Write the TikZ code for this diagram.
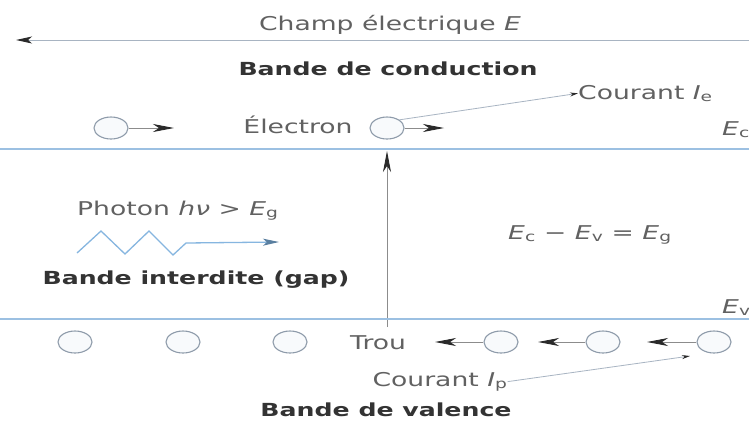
\documentclass[tikz,border=0pt]{standalone}
\usepackage{fontspec}
\setmainfont{DejaVu Sans}[FakeStretch=1.4]
\usetikzlibrary{shapes.geometric,arrows.meta}
\definecolor{txtgray}{HTML}{616161}
\definecolor{boldgray}{HTML}{333333}
\definecolor{circgray}{HTML}{8E9BAA}
\definecolor{circfill}{HTML}{F8FAFC}
\definecolor{bandblue}{HTML}{9CC0E2}
\definecolor{shaftgray}{HTML}{8C8C8C}
\definecolor{tipdark}{HTML}{2A2A2A}
\definecolor{photonblue}{HTML}{86B6E0}
\definecolor{photontip}{HTML}{5A7FA0}
\definecolor{fieldgray}{HTML}{A8B4C2}
\begin{document}
\begin{tikzpicture}[x=1pt,y=-1pt,
  txt/.style={text=txtgray,font=\fontsize{19}{22}\selectfont,inner sep=0pt},
  btxt/.style={text=boldgray,font=\fontsize{18}{21}\selectfont\bfseries,inner sep=0pt},
  carrier/.style={ellipse,draw=circgray,fill=circfill,line width=1.1pt,minimum width=34pt,minimum height=22pt,inner sep=0pt},
  band/.style={draw=bandblue,line width=1.5pt},
  mv/.style={draw=shaftgray,line width=0.9pt,-{Stealth[length=21pt,width=8pt,inset=6pt,color=tipdark]}},
  lead/.style={draw=fieldgray,line width=0.8pt,-{Stealth[length=8pt,width=4pt,color=tipdark]}},
  photon/.style={draw=photonblue,line width=1.3pt,line join=miter,-{Stealth[length=16pt,width=7pt,inset=4pt,color=photontip]}},
  field/.style={draw=fieldgray,line width=1pt,-{Stealth[length=16pt,width=7pt,inset=4pt,color=tipdark]}}
]
\useasboundingbox[fill=white] (0,0) rectangle (749,421);

% electric field
\node[txt,anchor=base] (champ) at (390,30) {Champ électrique \textit{E}};
\coordinate (fR) at (749,40);
\coordinate (fL) at (16,40);
\draw[field] (fR) -- (fL);

% conduction band
\node[btxt,anchor=base] (bc) at (388,75) {Bande de conduction};
\coordinate (cL) at (0,149);
\coordinate (cR) at (749,149);
\draw[band] (cL) -- (cR);
\node[txt,anchor=base west] (Ec) at (722,135) {\textit{E}\textsubscript{c}};

% electrons
\node[carrier] (e1) at (111,128) {};
\coordinate (e1t) at (174,128);
\draw[mv] (e1.east) -- (e1t);
\node[txt,anchor=base] (el) at (298,133) {Électron};
\node[carrier] (e2) at (387,128) {};
\coordinate (e2t) at (444,128);
\draw[mv] (e2.east) -- (e2t);
\node[txt,anchor=base west] (Ie) at (578,99) {Courant \textit{I}\textsubscript{e}};
\draw[lead] (e2.north east) -- (Ie.west);

% excitation arrow
\coordinate (vB) at (387,327);
\coordinate (vT) at (387,151);
\draw[mv] (vB) -- (vT);

% gap
\node[txt,anchor=base west] (ph) at (77,215) {Photon \textit{hν} > \textit{E}\textsubscript{g}};
\coordinate (z0) at (77,253);
\coordinate (z1) at (101,231);
\coordinate (z2) at (125,254);
\coordinate (z3) at (149,231);
\coordinate (z4) at (173,255);
\coordinate (z5) at (186,243);
\coordinate (z6) at (279,242);
\draw[photon] (z0) -- (z1) -- (z2) -- (z3) -- (z4) -- (z5) -- (z6);
\node[btxt,anchor=base] (bi) at (196,284) {Bande interdite (gap)};
\node[txt,anchor=base west] (eq) at (508,239) {\textit{E}\textsubscript{c} − \textit{E}\textsubscript{v} = \textit{E}\textsubscript{g}};

% valence band
\node[txt,anchor=base west] (Ev) at (722,313) {\textit{E}\textsubscript{v}};
\coordinate (vL) at (0,319);
\coordinate (vR) at (749,319);
\draw[band] (vL) -- (vR);

% holes
\node[carrier] (h1) at (75,342) {};
\node[carrier] (h2) at (183,342) {};
\node[carrier] (h3) at (290,342) {};
\node[txt,anchor=base west] (trou) at (350,349) {Trou};
\node[carrier] (h4) at (501,342) {};
\node[carrier] (h5) at (603,342) {};
\node[carrier] (h6) at (714,342) {};
\coordinate (h4t) at (435,342);
\coordinate (h5t) at (538,342);
\coordinate (h6t) at (647,342);
\draw[mv] (h4.west) -- (h4t);
\draw[mv] (h5.west) -- (h5t);
\draw[mv] (h6.west) -- (h6t);
\node[txt,anchor=base] (Ip) at (440,386) {Courant \textit{I}\textsubscript{p}};
\coordinate (ipt) at (690,356);
\draw[lead] (Ip.east) -- (ipt);

\node[btxt,anchor=base] (bv) at (386,416) {Bande de valence};
\end{tikzpicture}
\end{document}
